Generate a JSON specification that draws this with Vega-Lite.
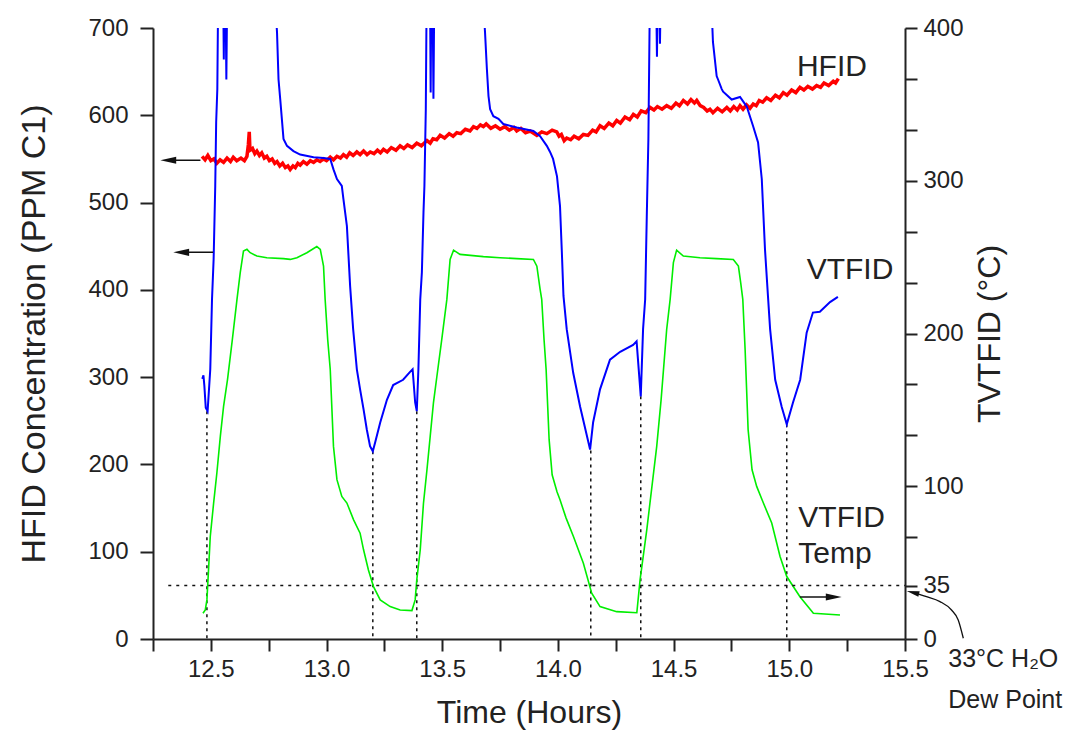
{
  "$schema": "https://vega.github.io/schema/vega-lite/v6.json",
  "width": 752,
  "height": 611,
  "autosize": "none",
  "padding": {"left": 153, "top": 28, "right": 166, "bottom": 93},
  "config": {
    "view": {"stroke": null},
    "font": "Liberation Sans",
    "axis": {
      "grid": false,
      "domainColor": "#222222",
      "domainWidth": 2,
      "tickColor": "#222222",
      "tickWidth": 2,
      "labelFont": "Liberation Sans",
      "labelFontSize": 24,
      "labelColor": "#222222",
      "labelOverlap": false,
      "labelFlush": false,
      "titleFont": "Liberation Sans",
      "titleFontSize": 30,
      "titleFontWeight": "normal",
      "titleColor": "#222222"
    }
  },
  "datasets": {
    "hfid": [
      {"t":12.462,"v":553},{"t":12.475,"v":549},{"t":12.487,"v":554},{"t":12.5,"v":548},{"t":12.513,"v":550},{"t":12.526,"v":545},{"t":12.54,"v":549},{"t":12.555,"v":546},{"t":12.57,"v":551},{"t":12.585,"v":547},{"t":12.597,"v":552},{"t":12.612,"v":548},{"t":12.63,"v":551},{"t":12.645,"v":548},{"t":12.656,"v":553},{"t":12.662,"v":566},{"t":12.666,"v":581},{"t":12.669,"v":560},{"t":12.68,"v":562},{"t":12.69,"v":556},{"t":12.699,"v":559},{"t":12.71,"v":554},{"t":12.72,"v":557},{"t":12.731,"v":551},{"t":12.742,"v":553},{"t":12.753,"v":548},{"t":12.765,"v":550},{"t":12.776,"v":545},{"t":12.786,"v":547},{"t":12.798,"v":542},{"t":12.81,"v":545},{"t":12.822,"v":540},{"t":12.833,"v":542},{"t":12.843,"v":538},{"t":12.855,"v":542},{"t":12.865,"v":540},{"t":12.876,"v":545},{"t":12.886,"v":543},{"t":12.9,"v":547},{"t":12.915,"v":544},{"t":12.93,"v":548},{"t":12.944,"v":546},{"t":12.958,"v":549},{"t":12.972,"v":547},{"t":12.987,"v":550},{"t":13.0,"v":548},{"t":13.016,"v":552},{"t":13.03,"v":549},{"t":13.045,"v":553},{"t":13.06,"v":551},{"t":13.073,"v":555},{"t":13.087,"v":552},{"t":13.1,"v":557},{"t":13.115,"v":554},{"t":13.131,"v":558},{"t":13.145,"v":555},{"t":13.16,"v":559},{"t":13.175,"v":555},{"t":13.189,"v":558},{"t":13.205,"v":556},{"t":13.22,"v":560},{"t":13.233,"v":557},{"t":13.246,"v":561},{"t":13.262,"v":558},{"t":13.28,"v":563},{"t":13.3,"v":560},{"t":13.318,"v":565},{"t":13.334,"v":562},{"t":13.35,"v":566},{"t":13.37,"v":563},{"t":13.39,"v":568},{"t":13.41,"v":565},{"t":13.434,"v":571},{"t":13.448,"v":568},{"t":13.46,"v":573},{"t":13.476,"v":572},{"t":13.491,"v":577},{"t":13.51,"v":574},{"t":13.53,"v":579},{"t":13.547,"v":576},{"t":13.563,"v":580},{"t":13.58,"v":579},{"t":13.6,"v":584},{"t":13.62,"v":582},{"t":13.635,"v":587},{"t":13.65,"v":585},{"t":13.665,"v":589},{"t":13.678,"v":587},{"t":13.69,"v":590},{"t":13.71,"v":585},{"t":13.73,"v":588},{"t":13.75,"v":584},{"t":13.77,"v":587},{"t":13.79,"v":583},{"t":13.81,"v":586},{"t":13.822,"v":582},{"t":13.84,"v":585},{"t":13.86,"v":580},{"t":13.88,"v":582},{"t":13.909,"v":577},{"t":13.93,"v":581},{"t":13.952,"v":579},{"t":13.975,"v":583},{"t":13.995,"v":581},{"t":14.005,"v":576},{"t":14.015,"v":578},{"t":14.027,"v":571},{"t":14.038,"v":574},{"t":14.055,"v":572},{"t":14.07,"v":576},{"t":14.09,"v":573},{"t":14.11,"v":578},{"t":14.13,"v":577},{"t":14.15,"v":583},{"t":14.165,"v":581},{"t":14.182,"v":588},{"t":14.2,"v":585},{"t":14.22,"v":591},{"t":14.237,"v":588},{"t":14.254,"v":594},{"t":14.27,"v":591},{"t":14.29,"v":598},{"t":14.31,"v":595},{"t":14.326,"v":601},{"t":14.343,"v":598},{"t":14.36,"v":605},{"t":14.38,"v":603},{"t":14.398,"v":609},{"t":14.415,"v":606},{"t":14.43,"v":610},{"t":14.45,"v":607},{"t":14.47,"v":611},{"t":14.49,"v":608},{"t":14.51,"v":614},{"t":14.525,"v":611},{"t":14.542,"v":617},{"t":14.56,"v":613},{"t":14.575,"v":618},{"t":14.59,"v":614},{"t":14.6,"v":617},{"t":14.615,"v":611},{"t":14.63,"v":609},{"t":14.645,"v":605},{"t":14.657,"v":607},{"t":14.67,"v":603},{"t":14.69,"v":608},{"t":14.71,"v":604},{"t":14.73,"v":609},{"t":14.745,"v":605},{"t":14.76,"v":610},{"t":14.775,"v":606},{"t":14.787,"v":611},{"t":14.8,"v":607},{"t":14.815,"v":612},{"t":14.83,"v":608},{"t":14.844,"v":613},{"t":14.857,"v":611},{"t":14.87,"v":617},{"t":14.885,"v":615},{"t":14.902,"v":620},{"t":14.92,"v":617},{"t":14.94,"v":623},{"t":14.957,"v":620},{"t":14.974,"v":626},{"t":14.99,"v":623},{"t":15.01,"v":629},{"t":15.028,"v":626},{"t":15.046,"v":632},{"t":15.063,"v":629},{"t":15.08,"v":633},{"t":15.1,"v":630},{"t":15.118,"v":634},{"t":15.135,"v":632},{"t":15.15,"v":637},{"t":15.17,"v":634},{"t":15.19,"v":639},{"t":15.2,"v":637},{"t":15.212,"v":642}
    ],
    "vtfid": [
      {"t":12.463,"v":298},{"t":12.468,"v":302},{"t":12.472,"v":290},{"t":12.478,"v":265},{"t":12.486,"v":261},{"t":12.4975,"v":309},{"t":12.505,"v":389},{"t":12.512,"v":435},{"t":12.519,"v":519},{"t":12.523,"v":592},{"t":12.528,"v":630},{"t":12.532,"v":750},{"t":12.553,"v":750},{"t":12.556,"v":664},{"t":12.559,"v":750},{"t":12.563,"v":750},{"t":12.567,"v":641},{"t":12.571,"v":750},
      {"t":12.773,"v":750},{"t":12.786,"v":695},{"t":12.7925,"v":641},{"t":12.8,"v":618},{"t":12.814,"v":573},{"t":12.829,"v":565},{"t":12.857,"v":559},{"t":12.886,"v":555},{"t":12.944,"v":552},{"t":12.987,"v":551},{"t":13.016,"v":550},{"t":13.03,"v":538},{"t":13.045,"v":527},{"t":13.066,"v":519},{"t":13.073,"v":504},{"t":13.088,"v":473},{"t":13.102,"v":404},{"t":13.115,"v":355},{"t":13.131,"v":309},{"t":13.145,"v":286},{"t":13.16,"v":263},{"t":13.174,"v":240},{"t":13.188,"v":221},{"t":13.2,"v":215},{"t":13.21,"v":225},{"t":13.232,"v":248},{"t":13.261,"v":274},{"t":13.288,"v":291},{"t":13.331,"v":297},{"t":13.361,"v":306},{"t":13.372,"v":309},{"t":13.383,"v":271},{"t":13.39,"v":261},{"t":13.397,"v":309},{"t":13.405,"v":389},{"t":13.412,"v":420},{"t":13.419,"v":489},{"t":13.423,"v":519},{"t":13.429,"v":607},{"t":13.433,"v":750},{"t":13.447,"v":750},{"t":13.45,"v":626},{"t":13.453,"v":750},{"t":13.458,"v":750},{"t":13.462,"v":619},{"t":13.466,"v":750},
      {"t":13.672,"v":750},{"t":13.685,"v":695},{"t":13.693,"v":653},{"t":13.7,"v":622},{"t":13.707,"v":607},{"t":13.721,"v":599},{"t":13.743,"v":596},{"t":13.764,"v":590},{"t":13.822,"v":586},{"t":13.894,"v":582},{"t":13.923,"v":576},{"t":13.952,"v":565},{"t":13.966,"v":558},{"t":13.979,"v":550},{"t":13.996,"v":530},{"t":14.009,"v":496},{"t":14.017,"v":443},{"t":14.024,"v":393},{"t":14.038,"v":355},{"t":14.066,"v":305},{"t":14.096,"v":266},{"t":14.139,"v":217},{"t":14.152,"v":248},{"t":14.182,"v":286},{"t":14.225,"v":320},{"t":14.269,"v":329},{"t":14.325,"v":337},{"t":14.34,"v":341},{"t":14.358,"v":278},{"t":14.368,"v":355},{"t":14.377,"v":389},{"t":14.384,"v":484},{"t":14.391,"v":573},{"t":14.398,"v":750},{"t":14.424,"v":750},{"t":14.428,"v":667},{"t":14.432,"v":750},{"t":14.438,"v":750},{"t":14.441,"v":682},{"t":14.445,"v":750},
      {"t":14.66,"v":750},{"t":14.67,"v":684},{"t":14.686,"v":645},{"t":14.692,"v":641},{"t":14.708,"v":630},{"t":14.714,"v":627},{"t":14.751,"v":618},{"t":14.787,"v":621},{"t":14.816,"v":610},{"t":14.843,"v":588},{"t":14.865,"v":569},{"t":14.881,"v":527},{"t":14.895,"v":446},{"t":14.908,"v":392},{"t":14.917,"v":355},{"t":14.939,"v":297},{"t":14.967,"v":266},{"t":14.989,"v":246},{"t":15.016,"v":271},{"t":15.047,"v":297},{"t":15.075,"v":351},{"t":15.102,"v":374},{"t":15.132,"v":375},{"t":15.176,"v":386},{"t":15.21,"v":392}
    ],
    "temp": [
      {"t":12.466,"T":16.9},{"t":12.476,"T":19},{"t":12.483,"T":25.6},{"t":12.49,"T":45.2},{"t":12.4975,"T":67.1},{"t":12.512,"T":89},{"t":12.526,"T":108.7},{"t":12.541,"T":132.7},{"t":12.555,"T":152.3},{"t":12.572,"T":169.8},{"t":12.593,"T":196.1},{"t":12.613,"T":222.3},{"t":12.627,"T":239.8},{"t":12.641,"T":254},{"t":12.656,"T":255.1},{"t":12.67,"T":252.9},{"t":12.699,"T":250.7},{"t":12.742,"T":249.6},{"t":12.814,"T":249},{"t":12.843,"T":248.5},{"t":12.872,"T":249.6},{"t":12.915,"T":252.9},{"t":12.958,"T":256.9},{"t":12.973,"T":255.1},{"t":12.987,"T":244.1},{"t":12.994,"T":222.3},{"t":13.005,"T":196.1},{"t":13.016,"T":176.4},{"t":13.03,"T":126.1},{"t":13.045,"T":104.3},{"t":13.066,"T":93.3},{"t":13.088,"T":89},{"t":13.117,"T":78},{"t":13.145,"T":69.3},{"t":13.16,"T":58.4},{"t":13.181,"T":45.2},{"t":13.203,"T":34.3},{"t":13.232,"T":25.6},{"t":13.275,"T":21.2},{"t":13.318,"T":19},{"t":13.369,"T":18.6},{"t":13.383,"T":25.6},{"t":13.39,"T":38.7},{"t":13.405,"T":58.4},{"t":13.419,"T":89},{"t":13.434,"T":110.8},{"t":13.448,"T":132.7},{"t":13.462,"T":154.6},{"t":13.477,"T":172},{"t":13.498,"T":196.1},{"t":13.52,"T":222.3},{"t":13.534,"T":248.5},{"t":13.549,"T":254.6},{"t":13.577,"T":251.8},{"t":13.678,"T":250.3},{"t":13.75,"T":249.6},{"t":13.822,"T":249},{"t":13.894,"T":248.5},{"t":13.909,"T":244.1},{"t":13.923,"T":228.9},{"t":13.93,"T":222.3},{"t":13.94,"T":196.1},{"t":13.949,"T":176.4},{"t":13.962,"T":130.5},{"t":13.975,"T":107.5},{"t":13.996,"T":96.4},{"t":14.009,"T":91.1},{"t":14.035,"T":79.3},{"t":14.067,"T":67.1},{"t":14.11,"T":49.6},{"t":14.146,"T":30},{"t":14.182,"T":21.2},{"t":14.254,"T":17.9},{"t":14.341,"T":17.2},{"t":14.355,"T":38.7},{"t":14.384,"T":71.5},{"t":14.427,"T":126.1},{"t":14.446,"T":156.7},{"t":14.47,"T":202.6},{"t":14.485,"T":222.3},{"t":14.499,"T":246.4},{"t":14.513,"T":254.6},{"t":14.542,"T":250.7},{"t":14.614,"T":249.6},{"t":14.686,"T":249},{"t":14.758,"T":248.5},{"t":14.78,"T":244.1},{"t":14.79,"T":233.2},{"t":14.799,"T":222.3},{"t":14.809,"T":189.5},{"t":14.822,"T":137},{"t":14.839,"T":110.8},{"t":14.859,"T":99.9},{"t":14.888,"T":89},{"t":14.924,"T":75.9},{"t":14.96,"T":54},{"t":14.989,"T":40.9},{"t":15.046,"T":27.7},{"t":15.104,"T":16.9},{"t":15.219,"T":15.7}
    ],
    "drops": [
      {"t":12.483,"v":261},{"t":13.2,"v":215},{"t":13.39,"v":261},{"t":14.142,"v":216},{"t":14.358,"v":278},{"t":14.989,"v":246}
    ],
    "arrowsL": [
      {"t":12.455,"t2":12.316,"v":548.5},{"t":12.51,"t2":12.372,"v":443}
    ],
    "labelsL": [
      {"t":15.033,"v":645,"txt":"HFID"},{"t":15.075,"v":412,"txt":"VTFID"}
    ],
    "dewLine": [
      {"t":12.316,"t2":15.5,"T":35}
    ],
    "arrowR": [
      {"t":15.046,"t2":15.192,"T":27.5}
    ],
    "arrowRHead": [
      {"t":15.192,"T":27.5}
    ],
    "arrowsLHead": [
      {"t":12.316,"v":548.5},{"t":12.372,"v":443}
    ],
    "dewArrow": [
      {"i":0,"t":15.752,"T":0.5},{"i":1,"t":15.73,"T":12.5},{"i":2,"t":15.701,"T":19},{"i":3,"t":15.651,"T":24.5},{"i":4,"t":15.593,"T":27.7},{"i":5,"t":15.534,"T":30.5}
    ],
    "dewHead": [
      {"t":15.534,"T":30.5}
    ],
    "labelsR": [
      {"t":15.039,"T":73.4,"txt":"VTFID"},{"t":15.039,"T":49.8,"txt":"Temp"}
    ],
    "labelsDew": [
      {"t":15.687,"T":-18.4,"txt":"33°C H₂O"},{"t":15.687,"T":-45.2,"txt":"Dew Point"}
    ]
  },
  "layer": [
    {
      "layer": [
        {
          "data": {"name": "drops"},
          "mark": {"type": "rule", "color": "#111111", "strokeWidth": 1.5, "strokeDash": [3, 4]},
          "encoding": {
            "x": {
              "field": "t", "type": "quantitative",
              "scale": {"domain": [12.25, 15.5], "nice": false, "zero": false},
              "axis": {
                "orient": "bottom",
                "title": "Time (Hours)",
                "titleFontSize": 32,
                "values": [12.25,12.5,12.75,13,13.25,13.5,13.75,14,14.25,14.5,14.75,15,15.25,15.5],
                "labelExpr": "abs(datum.value*2 - round(datum.value*2)) < 0.001 && datum.value > 12.3 ? format(datum.value, '.1f') : ''",
                "labelOverlap": false,
                "labelFlush": false,
                "tickSize": 12,
                "labelPadding": 6,
                "titlePadding": 16,
                "encode": {"ticks": {
                  "y2": {"condition": {"test": "abs(datum.value*2 - round(datum.value*2)) < 0.001 && datum.value > 12.3", "value": 12}, "value": 6}
                }}
              }
            },
            "y": {
              "field": "v", "type": "quantitative",
              "scale": {"domain": [0, 700], "nice": false, "zero": false},
              "axis": {
                "orient": "left",
                "title": "HFID Concentration (PPM C1)",
                "titleFontSize": 34,
                "values": [0,100,200,300,400,500,600,700],
                "format": "d",
                "labelOverlap": false,
                "tickSize": 13,
                "labelPadding": 12,
                "titlePadding": 36,
                "encode": {"ticks": {
                  "x": {"value": 11},
                  "x2": {"value": -13}
                }}
              }
            },
            "y2": {"datum": 0}
          }
        },
        {
          "data": {"name": "hfid"},
          "mark": {"type": "line", "color": "#ff0000", "strokeWidth": 3.5, "clip": true},
          "encoding": {
            "x": {"field": "t", "type": "quantitative", "scale": {"domain": [12.25, 15.5], "nice": false, "zero": false}},
            "y": {"field": "v", "type": "quantitative", "scale": {"domain": [0, 700], "nice": false, "zero": false}}
          }
        },
        {
          "data": {"name": "vtfid"},
          "mark": {"type": "line", "color": "#0000ff", "strokeWidth": 2, "clip": true},
          "encoding": {
            "x": {"field": "t", "type": "quantitative", "scale": {"domain": [12.25, 15.5], "nice": false, "zero": false}},
            "y": {"field": "v", "type": "quantitative", "scale": {"domain": [0, 700], "nice": false, "zero": false}}
          }
        },
        {
          "data": {"name": "arrowsL"},
          "mark": {"type": "rule", "color": "#111111", "strokeWidth": 1.5},
          "encoding": {
            "x": {"field": "t", "type": "quantitative", "scale": {"domain": [12.25, 15.5], "nice": false, "zero": false}},
            "x2": {"field": "t2"},
            "y": {"field": "v", "type": "quantitative", "scale": {"domain": [0, 700], "nice": false, "zero": false}}
          }
        },
        {
          "data": {"name": "arrowsLHead"},
          "mark": {"type": "point", "shape": "M -1 0 L 1 -0.45 L 1 0.45 Z", "filled": true, "color": "#111111", "size": 250, "opacity": 1},
          "encoding": {
            "x": {"field": "t", "type": "quantitative", "scale": {"domain": [12.25, 15.5], "nice": false, "zero": false}},
            "y": {"field": "v", "type": "quantitative", "scale": {"domain": [0, 700], "nice": false, "zero": false}}
          }
        },
        {
          "data": {"name": "labelsL"},
          "mark": {"type": "text", "font": "Liberation Sans", "fontSize": 30, "color": "#222222", "align": "left", "baseline": "alphabetic"},
          "encoding": {
            "x": {"field": "t", "type": "quantitative", "scale": {"domain": [12.25, 15.5], "nice": false, "zero": false}},
            "y": {"field": "v", "type": "quantitative", "scale": {"domain": [0, 700], "nice": false, "zero": false}},
            "text": {"field": "txt"}
          }
        }
      ]
    },
    {
      "layer": [
        {
          "data": {"name": "temp"},
          "mark": {"type": "line", "color": "#00ee00", "strokeWidth": 1.6},
          "encoding": {
            "x": {"field": "t", "type": "quantitative", "scale": {"domain": [12.25, 15.5], "nice": false, "zero": false}},
            "y": {
              "field": "T", "type": "quantitative",
              "scale": {"domain": [0, 400], "nice": false, "zero": false},
              "axis": {
                "orient": "right",
                "title": "TVTFID (°C)",
                "titleFontSize": 32,
                "titleAngle": -90,
                "titleBaseline": "top",
                "values": [0,16.6667,35,50,66.6667,83.3333,100,116.6667,133.3333,150,166.6667,183.3333,200,216.6667,233.3333,250,266.6667,283.3333,300,316.6667,333.3333,350,366.6667,383.3333,400],
                "labelExpr": "datum.value == 35 || abs(datum.value/100 - round(datum.value/100)) < 0.001 ? format(datum.value, 'd') : ''",
                "labelOverlap": false,
                "tickSize": 12,
                "labelPadding": 6,
                "titlePadding": 11,
                "encode": {"ticks": {
                  "x": {"condition": {"test": "datum.value == 35 || abs(datum.value/100 - round(datum.value/100)) < 0.001", "value": -11}, "value": 0},
                  "x2": {"condition": {"test": "datum.value == 35 || abs(datum.value/100 - round(datum.value/100)) < 0.001", "value": 12}, "value": 6}
                }}
              }
            }
          }
        },
        {
          "data": {"name": "dewLine"},
          "mark": {"type": "rule", "color": "#111111", "strokeWidth": 1.5, "strokeDash": [3, 5]},
          "encoding": {
            "x": {"field": "t", "type": "quantitative", "scale": {"domain": [12.25, 15.5], "nice": false, "zero": false}},
            "x2": {"field": "t2"},
            "y": {"field": "T", "type": "quantitative", "scale": {"domain": [0, 400], "nice": false, "zero": false}}
          }
        },
        {
          "data": {"name": "arrowR"},
          "mark": {"type": "rule", "color": "#111111", "strokeWidth": 1.5},
          "encoding": {
            "x": {"field": "t", "type": "quantitative", "scale": {"domain": [12.25, 15.5], "nice": false, "zero": false}},
            "x2": {"field": "t2"},
            "y": {"field": "T", "type": "quantitative", "scale": {"domain": [0, 400], "nice": false, "zero": false}}
          }
        },
        {
          "data": {"name": "arrowRHead"},
          "mark": {"type": "point", "shape": "M 1 0 L -1 -0.45 L -1 0.45 Z", "filled": true, "color": "#111111", "size": 250, "opacity": 1},
          "encoding": {
            "x": {"field": "t", "type": "quantitative", "scale": {"domain": [12.25, 15.5], "nice": false, "zero": false}},
            "y": {"field": "T", "type": "quantitative", "scale": {"domain": [0, 400], "nice": false, "zero": false}}
          }
        },
        {
          "data": {"name": "dewArrow"},
          "mark": {"type": "line", "color": "#111111", "strokeWidth": 1.3, "interpolate": "monotone"},
          "encoding": {
            "x": {"field": "t", "type": "quantitative", "scale": {"domain": [12.25, 15.5], "nice": false, "zero": false}},
            "y": {"field": "T", "type": "quantitative", "scale": {"domain": [0, 400], "nice": false, "zero": false}},
            "order": {"field": "i"}
          }
        },
        {
          "data": {"name": "dewHead"},
          "mark": {"type": "point", "shape": "M -1 0 L 1 -0.45 L 1 0.45 Z", "filled": true, "color": "#111111", "size": 160, "angle": 14, "opacity": 1},
          "encoding": {
            "x": {"field": "t", "type": "quantitative", "scale": {"domain": [12.25, 15.5], "nice": false, "zero": false}},
            "y": {"field": "T", "type": "quantitative", "scale": {"domain": [0, 400], "nice": false, "zero": false}}
          }
        },
        {
          "data": {"name": "labelsR"},
          "mark": {"type": "text", "font": "Liberation Sans", "fontSize": 30, "color": "#222222", "align": "left", "baseline": "alphabetic"},
          "encoding": {
            "x": {"field": "t", "type": "quantitative", "scale": {"domain": [12.25, 15.5], "nice": false, "zero": false}},
            "y": {"field": "T", "type": "quantitative", "scale": {"domain": [0, 400], "nice": false, "zero": false}},
            "text": {"field": "txt"}
          }
        },
        {
          "data": {"name": "labelsDew"},
          "mark": {"type": "text", "font": "Liberation Sans", "fontSize": 25, "color": "#222222", "align": "left", "baseline": "alphabetic"},
          "encoding": {
            "x": {"field": "t", "type": "quantitative", "scale": {"domain": [12.25, 15.5], "nice": false, "zero": false}},
            "y": {"field": "T", "type": "quantitative", "scale": {"domain": [0, 400], "nice": false, "zero": false}},
            "text": {"field": "txt"}
          }
        }
      ]
    }
  ],
  "resolve": {"scale": {"y": "independent"}}
}
